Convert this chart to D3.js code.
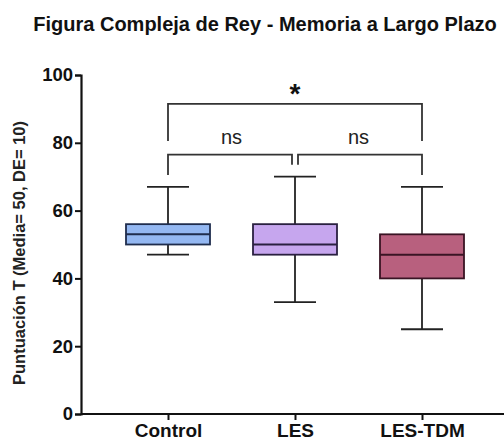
<!DOCTYPE html>
<html>
<head>
<meta charset="utf-8">
<script src="https://cdn.jsdelivr.net/npm/d3@7"></script>
<style>
  body { margin: 0; background: #fff; }
  text { font-family: "Liberation Sans", Arial, sans-serif; }
</style>
</head>
<body>
<svg id="chart" width="504" height="444"></svg>
<script>
// Box plot data
const groups = ["Control", "LES", "LES-TDM"];
const whiskerLow = [47, 33, 25];
const q1 = [50, 47, 40];
const medians = [53, 50, 47];
const q3 = [56, 56, 53];
const whiskerHigh = [67, 70, 67];
const fills = ["#94b8f2", "#c6a6ee", "#b8607e"];
const strokes = ["#1f2d4d", "#2a2040", "#3a1424"];
const yTicks = [0, 20, 40, 60, 80, 100];

// Significance brackets: [from group, to group, bracket value, label]
const comparisons = [
  { a: 0, b: 2, level: 91.5, label: "*" },
  { a: 0, b: 1, level: 76.5, label: "ns" },
  { a: 1, b: 2, level: 76.5, label: "ns" }
];

const svg = d3.select("#chart");
const margin = { top: 75, right: 0, bottom: 30, left: 81 };
const width = 504, height = 444;

const y = d3.scaleLinear().domain([0, 100]).range([414, 75]);
const x = d3.scalePoint().domain(groups).range([168, 422]);
const boxW = 84;

// Title
svg.append("text")
  .attr("x", 265).attr("y", 31)
  .attr("text-anchor", "middle")
  .attr("font-size", "20px").attr("font-weight", "bold")
  .attr("fill", "#111")
  .text("Figura Compleja de Rey - Memoria a Largo Plazo");

// Y axis
const yAxis = svg.append("g")
  .attr("transform", `translate(${margin.left},0)`)
  .call(d3.axisLeft(y).tickValues(yTicks).tickSize(6).tickPadding(2));
yAxis.select(".domain").attr("stroke", "#111").attr("stroke-width", 2.2);
yAxis.selectAll(".tick line").attr("stroke", "#111").attr("stroke-width", 2);
yAxis.selectAll("text")
  .attr("font-size", "18.5px").attr("font-weight", "bold").attr("fill", "#111")
  .attr("font-family", "Liberation Sans, Arial, sans-serif");

// X axis
const xAxis = svg.append("g")
  .attr("transform", `translate(0,${y(0)})`)
  .call(d3.axisBottom(x).tickSize(6).tickSizeOuter(0).tickPadding(4));
xAxis.select(".domain").attr("d", `M${margin.left},0H${width}`)
  .attr("stroke", "#111").attr("stroke-width", 2.2);
xAxis.selectAll(".tick line").attr("stroke", "#111").attr("stroke-width", 2);
xAxis.selectAll("text")
  .attr("font-size", "19px").attr("font-weight", "bold").attr("fill", "#111")
  .attr("font-family", "Liberation Sans, Arial, sans-serif");

// Y axis label
svg.append("text")
  .attr("transform", "rotate(-90)")
  .attr("x", -253).attr("y", 25)
  .attr("text-anchor", "middle")
  .attr("font-size", "16.5px").attr("font-weight", "bold").attr("fill", "#222")
  .text("Puntuación T (Media= 50, DE= 10)");

// Boxes
const boxes = svg.append("g");
groups.forEach((g, i) => {
  const cx = x(g);
  const grp = boxes.append("g");
  grp.append("line")
    .attr("x1", cx).attr("x2", cx)
    .attr("y1", y(whiskerHigh[i])).attr("y2", y(whiskerLow[i]))
    .attr("stroke", "#222").attr("stroke-width", 1.8);
  [whiskerLow[i], whiskerHigh[i]].forEach(v => {
    grp.append("line")
      .attr("x1", cx - boxW / 4).attr("x2", cx + boxW / 4)
      .attr("y1", y(v)).attr("y2", y(v))
      .attr("stroke", "#222").attr("stroke-width", 1.8);
  });
  grp.append("rect")
    .attr("x", cx - boxW / 2).attr("width", boxW)
    .attr("y", y(q3[i])).attr("height", y(q1[i]) - y(q3[i]))
    .attr("fill", fills[i]).attr("stroke", strokes[i]).attr("stroke-width", 1.8);
  grp.append("line")
    .attr("x1", cx - boxW / 2).attr("x2", cx + boxW / 2)
    .attr("y1", y(medians[i])).attr("y2", y(medians[i]))
    .attr("stroke", strokes[i]).attr("stroke-width", 2);
});

// Brackets
const brackets = svg.append("g");
comparisons.forEach(c => {
  const gap = c.label === "ns" ? 3 : 0;
  const x1 = x(groups[c.a]) + (c.a === 1 ? gap : 0);
  const x2 = x(groups[c.b]) - (c.b === 1 ? gap : 0);
  const yTop = y(c.level);
  const leftEnd = y(c.a === 1 ? c.level - 3 : c.level - (c.label === "*" ? 11 : 6));
  const rightEnd = y(c.b === 1 ? c.level - 3 : c.level - (c.label === "*" ? 11 : 6));
  brackets.append("path")
    .attr("d", `M${x1},${leftEnd}V${yTop}H${x2}V${rightEnd}`)
    .attr("fill", "none").attr("stroke", "#333").attr("stroke-width", 1.8);
  const mid = (x(groups[c.a]) + x(groups[c.b])) / 2;
  if (c.label === "*") {
    brackets.append("text")
      .attr("x", mid).attr("y", yTop - 1)
      .attr("text-anchor", "middle")
      .attr("font-size", "28px").attr("font-weight", "bold").attr("fill", "#111")
      .text("*");
  } else {
    brackets.append("text")
      .attr("x", mid).attr("y", yTop - 11)
      .attr("text-anchor", "middle")
      .attr("font-size", "20px").attr("fill", "#222")
      .text("ns");
  }
});
</script>
</body>
</html>
